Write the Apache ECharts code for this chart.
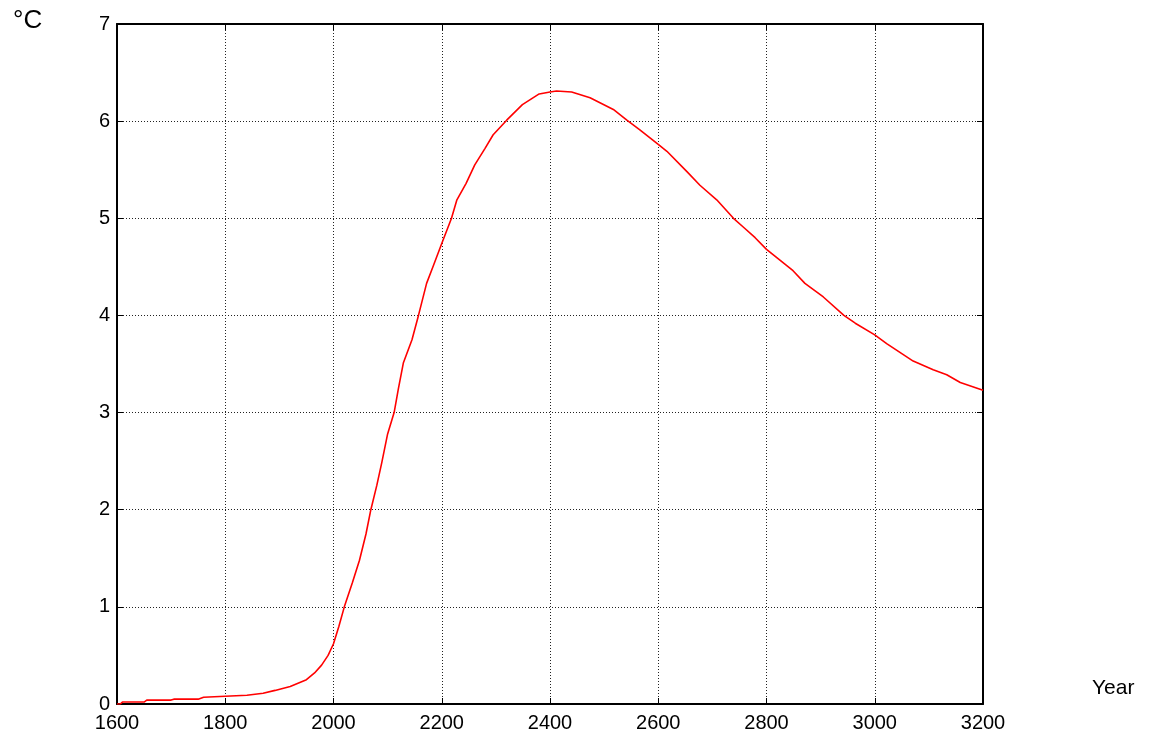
<!DOCTYPE html>
<html>
<head>
<meta charset="utf-8">
<script src="https://cdn.jsdelivr.net/npm/echarts@6/dist/echarts.min.js"></script>
<style>
  html, body { margin: 0; padding: 0; background: #fff; }
  #chart { width: 1150px; height: 740px; }
</style>
</head>
<body>
<div id="chart"></div>
<script>
// data
const years = [1600, 1606, 1610, 1650, 1655, 1700, 1705, 1750, 1760, 1800, 1840, 1870, 1892, 1920, 1950, 1965,
  1978, 1990, 2000, 2010, 2020, 2035, 2048, 2060, 2069, 2080, 2089, 2100, 2112, 2120, 2129, 2145, 2157,
  2172, 2185, 2200, 2218, 2228, 2245, 2261, 2280, 2295, 2320, 2349, 2380, 2400, 2412, 2440, 2474, 2517,
  2542, 2566, 2600, 2616, 2653, 2677, 2708, 2739, 2757, 2779, 2800, 2849, 2871, 2905, 2943, 2964, 3000,
  3022, 3071, 3108, 3133, 3158, 3200]
const temps = [0, 0.0, 0.02, 0.02, 0.04, 0.04, 0.05, 0.05, 0.07, 0.08, 0.09, 0.11, 0.14, 0.18, 0.25, 0.32,
  0.40, 0.50, 0.62, 0.80, 1.0, 1.25, 1.48, 1.75, 2.0, 2.25, 2.48, 2.78, 3.0, 3.25, 3.51, 3.75, 4.0,
  4.33, 4.52, 4.74, 5.0, 5.19, 5.36, 5.55, 5.72, 5.86, 6.01, 6.17, 6.28, 6.30, 6.31, 6.30, 6.24, 6.12,
  6.01, 5.91, 5.76, 5.69, 5.48, 5.34, 5.19, 5.0, 4.91, 4.80, 4.68, 4.46, 4.33, 4.19, 4.0, 3.92, 3.80,
  3.71, 3.53, 3.44, 3.39, 3.31, 3.23]
const xTicks = [1600, 1800, 2000, 2200, 2400, 2600, 2800, 3000, 3200]
const yTicks = [0, 1, 2, 3, 4, 5, 6, 7]

const font = 'Liberation Sans, Arial, sans-serif'
const chart = echarts.init(document.getElementById('chart'))

const axisBase = {
  axisLine: { show: true, onZero: false, lineStyle: { color: '#000', width: 2 } },
  axisTick: { show: true, inside: true, length: 6, lineStyle: { color: '#000', width: 1 } },
}
const gridDots = { show: true, lineStyle: { color: '#222', type: [1, 2], width: 1 } }

const option = {
  backgroundColor: '#fff',
  animation: false,
  grid: { left: 117, right: 167, top: 24, bottom: 36 },
  xAxis: [
    {
      ...axisBase,
      type: 'value',
      min: xTicks[0],
      max: xTicks[xTicks.length - 1],
      interval: 200,
      axisLabel: { color: '#000', fontSize: 20, fontFamily: font, margin: 9, formatter: v => String(v) },
      splitLine: gridDots,
    },
    {
      ...axisBase,
      type: 'value',
      position: 'top',
      min: xTicks[0],
      max: xTicks[xTicks.length - 1],
      interval: 200,
      axisLabel: { show: false },
      splitLine: { show: false },
    },
  ],
  yAxis: [
    {
      ...axisBase,
      type: 'value',
      min: yTicks[0],
      max: yTicks[yTicks.length - 1],
      interval: 1,
      axisLabel: { color: '#000', fontSize: 20, fontFamily: font, margin: 7 },
      splitLine: gridDots,
    },
    {
      ...axisBase,
      type: 'value',
      position: 'right',
      min: yTicks[0],
      max: yTicks[yTicks.length - 1],
      interval: 1,
      axisLabel: { show: false },
      splitLine: { show: false },
    },
  ],
  graphic: [
    { type: 'text', left: 13, top: 8, style: { text: '°C', fontSize: 26, fontFamily: font, fill: '#000' } },
    { type: 'text', left: 1092, top: 678, style: { text: 'Year', fontSize: 21, fontFamily: font, fill: '#000' } },
  ],
  series: [
    {
      type: 'line',
      data: years.map((y, i) => [y, temps[i]]),
      symbol: 'none',
      lineStyle: { color: '#ff0000', width: 1.6 },
      z: 5,
    },
  ],
}
chart.setOption(option)
</script>
</body>
</html>
